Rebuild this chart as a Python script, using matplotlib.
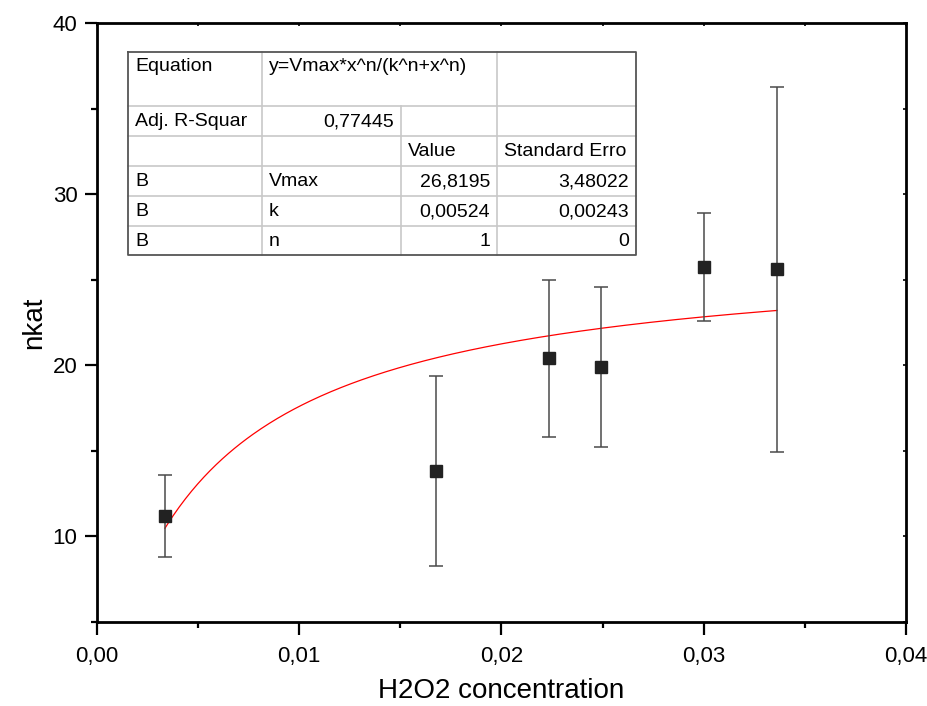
import numpy as np
import matplotlib
matplotlib.use("Agg")
import matplotlib.pyplot as plt
from matplotlib.ticker import MultipleLocator, FuncFormatter

plt.rcParams['font.family'] = ['Liberation Sans', 'DejaVu Sans']

# ---- data ----
conc = [0.00336, 0.01676, 0.02235, 0.02492, 0.03001, 0.03362]
nkat = [11.2, 13.8, 20.4, 19.9, 25.75, 25.6]
nkat_err = [2.4, 5.55, 4.6, 4.65, 3.17, 10.65]
vmax = 26.8195
k_fit = 0.00524
n_fit = 1

table_rows = [
    ["Equation", "y=Vmax*x^n/(k^n+x^n)", "", ""],
    ["Adj. R-Squar", "0,77445", "", ""],
    ["", "", "Value", "Standard Erro"],
    ["B", "Vmax", "26,8195", "3,48022"],
    ["B", "k", "0,00524", "0,00243"],
    ["B", "n", "1", "0"],
]

W, H = 928, 706
fig = plt.figure(figsize=(W / 100, H / 100), dpi=100)
L, R, T, B = 97, 906, 23, 622
ax = fig.add_axes([L / W, 1 - B / H, (R - L) / W, (B - T) / H])

xf = np.linspace(conc[0], conc[-1], 300)
yf = vmax * xf**n_fit / (k_fit**n_fit + xf**n_fit)
ax.plot(xf, yf, color='#ff0000', lw=0.9, zorder=2)

ax.errorbar(conc, nkat, yerr=nkat_err, fmt='s', color='#222222', ms=9,
            mec='#222222', mfc='#222222', ecolor='#4a4a4a', elinewidth=1.1,
            capsize=5, capthick=1.1, zorder=3)

ax.set_xlim(0, 0.04)
ax.set_ylim(5, 40)
ax.xaxis.set_major_locator(MultipleLocator(0.01))
ax.xaxis.set_minor_locator(MultipleLocator(0.005))
ax.yaxis.set_major_locator(MultipleLocator(10))
ax.yaxis.set_minor_locator(MultipleLocator(5))
ax.xaxis.set_major_formatter(FuncFormatter(lambda v, p: f"{v:.2f}".replace('.', ',')))
ax.yaxis.set_major_formatter(FuncFormatter(lambda v, p: f"{v:.0f}"))

for s in ax.spines.values():
    s.set_linewidth(2.0)
ax.tick_params(which='major', direction='out', length=9, width=1.6, labelsize=16,
               pad=5, top=False, right=False)
ax.tick_params(axis='x', which='major', pad=8)
ax.tick_params(which='minor', direction='out', length=4.5, width=1.6,
               top=False, right=False)

# inward small ticks on top and right
sec_x = ax.secondary_xaxis('top')
sec_x.xaxis.set_major_locator(MultipleLocator(0.01))
sec_x.xaxis.set_minor_locator(MultipleLocator(0.005))
sec_x.tick_params(which='both', direction='in', length=2.5, width=1.2, labeltop=False)
sec_x.spines['top'].set_visible(False)
sec_y = ax.secondary_yaxis('right')
sec_y.yaxis.set_major_locator(MultipleLocator(10))
sec_y.yaxis.set_minor_locator(MultipleLocator(5))
sec_y.tick_params(which='both', direction='in', length=2.5, width=1.2, labelright=False)
sec_y.spines['right'].set_visible(False)

ax.set_xlabel("H2O2 concentration", fontsize=20, labelpad=8)
ax.set_ylabel("nkat", fontsize=20, labelpad=4)

# ---- fit results table (pixel layout) ----
def fx(px):
    return (px - L) / (R - L)

def fy(py):
    return (B - py) / (B - T)

cols = [128.5, 261.7, 400.7, 497.3, 636.0]
rows = [51.7, 105.7, 135.7, 166.0, 195.7, 225.7, 255.0]
inner = '#c8c8c8'
outer = '#555555'
tr = ax.transAxes
for yy in rows[1:-1]:
    ax.plot([fx(cols[0]), fx(cols[-1])], [fy(yy), fy(yy)], color=inner, lw=1.2,
            transform=tr, clip_on=False, zorder=5)
ax.plot([fx(cols[1])] * 2, [fy(rows[0]), fy(rows[-1])], color=inner, lw=1.2, transform=tr, clip_on=False, zorder=5)
ax.plot([fx(cols[2])] * 2, [fy(rows[1]), fy(rows[-1])], color=inner, lw=1.2, transform=tr, clip_on=False, zorder=5)
ax.plot([fx(cols[3])] * 2, [fy(rows[0]), fy(rows[-1])], color=inner, lw=1.2, transform=tr, clip_on=False, zorder=5)
bx = [cols[0], cols[-1], cols[-1], cols[0], cols[0]]
by = [rows[0], rows[0], rows[-1], rows[-1], rows[0]]
ax.plot([fx(v) for v in bx], [fy(v) for v in by], color=outer, lw=1.3,
        transform=tr, clip_on=False, zorder=6)

pad = 7
for r, row in enumerate(table_rows):
    if r == 0:
        yc = rows[0] + 15
    else:
        yc = (rows[r] + rows[r + 1]) / 2 + 1
    for c, txt in enumerate(row):
        if not txt:
            continue
        right_align = (r >= 3 and c >= 2) or (r == 1 and c == 1)
        if right_align:
            xpos, ha = cols[c + 1] - pad, 'right'
        else:
            xpos, ha = cols[c] + pad, 'left'
        ax.text(fx(xpos), fy(yc), txt, transform=tr, ha=ha, va='center',
                fontsize=14, color='black', zorder=7)

fig.savefig("out.png", dpi=100)
